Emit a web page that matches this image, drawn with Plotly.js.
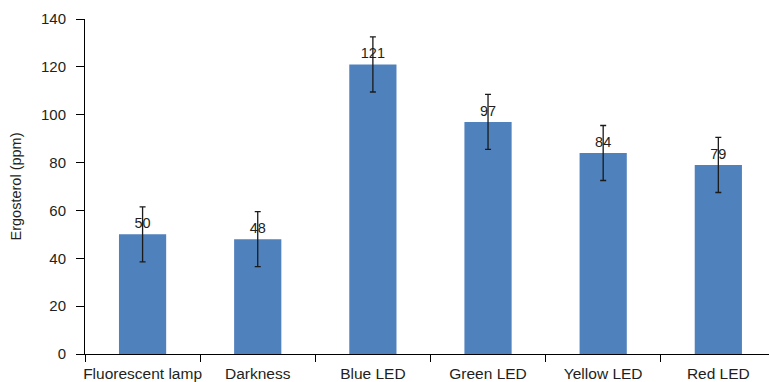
<!DOCTYPE html>
<html>
<head>
<meta charset="utf-8">
<script src="https://cdn.plot.ly/plotly-3.0.1.min.js"></script>
<style>
  html, body { margin: 0; padding: 0; background: #ffffff; overflow: hidden; }
  #chart { width: 769px; height: 382px; }
</style>
</head>
<body>
<div id="chart"></div>
<script>
// Ergosterol content under different light sources
const categories = ["Fluorescent lamp", "Darkness", "Blue LED", "Green LED", "Yellow LED", "Red LED"];
const ergosterol = [50, 48, 121, 97, 84, 79];
const errors = [11.5, 11.5, 11.5, 11.5, 11.5, 11.5];
const yTicks = [0, 20, 40, 60, 80, 100, 120, 140];

const textColor = "#231f20";
const fontFamily = "Liberation Sans, Arial, Helvetica, sans-serif";

const trace = {
  type: "bar",
  x: categories,
  y: ergosterol,
  marker: { color: "#4f81bd", line: { width: 0 } },
  texttemplate: "%{y}",
  textposition: "outside",
  textfont: { family: fontFamily, size: 14.5, color: textColor },
  cliponaxis: false,
  error_y: {
    type: "data",
    array: errors,
    visible: true,
    color: "#1a1a1a",
    thickness: 1.3,
    width: 3
  },
  hoverinfo: "skip"
};

const layout = {
  width: 769,
  height: 382,
  margin: { l: 85, r: 0, t: 19, b: 28, autoexpand: false },
  paper_bgcolor: "#ffffff",
  plot_bgcolor: "#ffffff",
  showlegend: false,
  bargap: 0.59,
  font: { family: fontFamily, color: textColor },
  xaxis: {
    type: "category",
    range: [-0.5, 5.44],
    showline: true,
    linecolor: "#000000",
    linewidth: 1,
    ticks: "outside",
    tickson: "boundaries",
    ticklen: 7,
    tickcolor: "#000000",
    tickangle: 0,
    ticklabelstandoff: 5,
    automargin: false,
    showgrid: false,
    zeroline: false,
    tickfont: { family: fontFamily, size: 15.5, color: textColor },
    fixedrange: true
  },
  yaxis: {
    range: [0, 140],
    tickvals: yTicks,
    ticktext: yTicks.map(String),
    showline: true,
    linecolor: "#000000",
    linewidth: 1,
    ticks: "outside",
    ticklen: 8,
    tickcolor: "#000000",
    ticklabelstandoff: 7,
    automargin: false,
    showgrid: false,
    zeroline: false,
    tickfont: { family: fontFamily, size: 15, color: textColor },
    title: { text: "Ergosterol (ppm)", font: { family: fontFamily, size: 14.5, color: textColor }, standoff: 15 },
    fixedrange: true
  }
};

Plotly.newPlot("chart", [trace], layout, { displayModeBar: false, staticPlot: true });
</script>
</body>
</html>
